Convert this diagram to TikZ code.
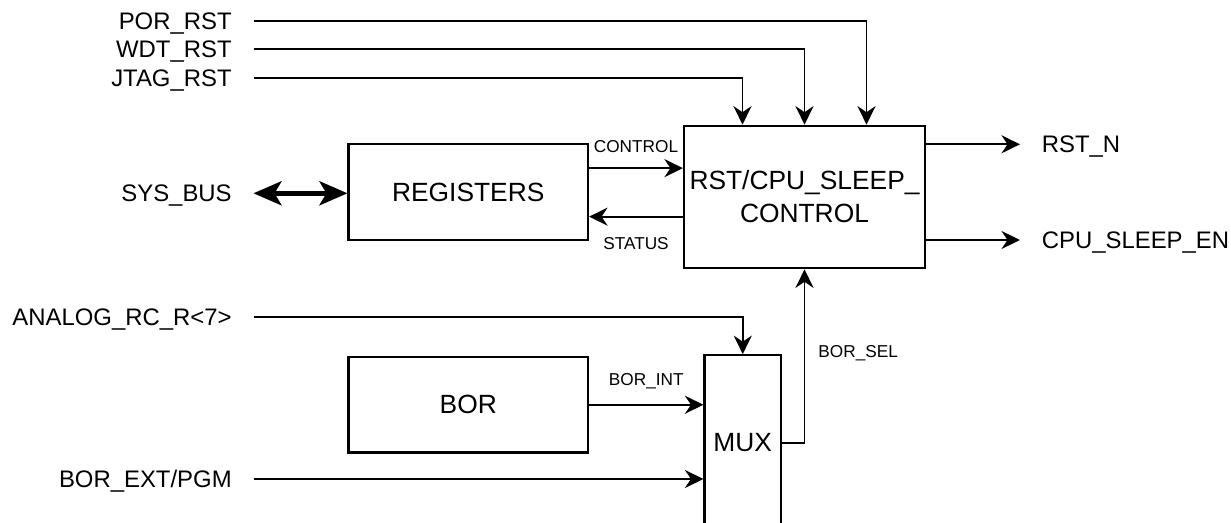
\documentclass[tikz,border=0pt]{standalone}
\usepackage{fontspec}
\setmainfont{Liberation Sans}
\usetikzlibrary{arrows.meta, positioning}

\begin{document}
\begin{tikzpicture}[
  box/.style = {rectangle, draw, line width=1.2pt, inner sep=2pt,
                font=\fontsize{15}{18.8}\selectfont, align=center},
  io/.style  = {inner xsep=0.43cm, inner ysep=0pt, text height=9.7pt, text depth=0pt,
                font=\fontsize{13.6}{16}\selectfont},
  tag/.style = {inner sep=0pt, text height=7pt, text depth=0pt,
                font=\fontsize{9.8}{12}\selectfont},
  arr/.style = {-{Stealth[length=0.37cm, width=0.36cm, inset=0.12cm]}, line width=1.1pt},
  bus/.style = {{Stealth[length=0.56cm, width=0.48cm, inset=0.14cm]}-{Stealth[length=0.56cm, width=0.48cm, inset=0.14cm]},
                line width=2.6pt},
]
\useasboundingbox[fill=white] (0,0) rectangle (24.62,-10.46);
\clip (0,0) rectangle (24.62,-10.46);

\node[box, minimum width=4.82cm, minimum height=2.85cm] (ctrl) at (16.09,-3.94) {RST/CPU\_SLEEP\_\\CONTROL};
\node[box, minimum width=4.79cm, minimum height=1.91cm] (regs) at (9.365,-3.843) {REGISTERS};
\node[box, minimum width=4.79cm, minimum height=1.91cm, below=2.3cm of regs] (bor) {BOR};
\node[box, minimum width=1.53cm, minimum height=3.5cm] (mux) at (14.855,-8.854) {MUX};

\node[io, anchor=east] (por)    at (5.07,-0.414) {POR\_RST};
\node[io, anchor=east] (wdt)    at (5.07,-0.986) {WDT\_RST};
\node[io, anchor=east] (jtag)   at (5.07,-1.554) {JTAG\_RST};
\node[io, anchor=east] (sysbus) at (5.07,-3.866) {SYS\_BUS};
\node[io, anchor=east] (analog) at (5.07,-6.334) {ANALOG\_RC\_R<7>};
\node[io, anchor=east] (borext) at (5.07,-9.58)  {BOR\_EXT/PGM};
\node[io, anchor=west] (rstn)   at (20.4,-2.886) {RST\_N};
\node[io, anchor=west] (sleep)  at (20.4,-4.8)   {CPU\_SLEEP\_EN};

\coordinate (ctl) at ([yshift=0.48cm]regs.east);
\coordinate (sts) at ([yshift=-0.49cm]regs.east);

\draw[arr] (por)  -| ([xshift=1.24cm]ctrl.north);
\draw[arr] (wdt)  -| (ctrl.north);
\draw[arr] (jtag) -| ([xshift=-1.24cm]ctrl.north);
\draw[bus] (sysbus) -- (sysbus -| regs.west);
\draw[arr] (ctl) -- node[tag, above=0.29cm] {CONTROL} (ctl -| ctrl.west);
\draw[arr] (sts -| ctrl.west) -- node[tag, below=0.40cm] {STATUS} (sts);
\draw[arr] (rstn -| ctrl.east) -- (rstn);
\draw[arr] (sleep -| ctrl.east) -- (sleep);
\draw[arr] (analog) -| (mux.north);
\draw[arr] (bor) -- node[tag, above=0.37cm] {BOR\_INT} (bor -| mux.west);
\draw[arr] (borext) -- (borext -| mux.west);
\draw[arr] (mux) -| node[tag, right=0.26cm, pos=0.763] {BOR\_SEL} (ctrl.south);
\end{tikzpicture}
\end{document}
